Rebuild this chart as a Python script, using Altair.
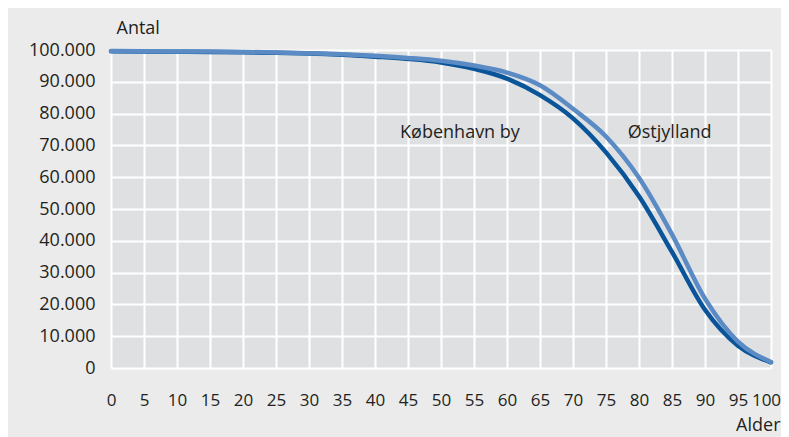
import altair as alt
import pandas as pd

# ---- data ----
ages = [0, 5, 10, 15, 20, 25, 30, 35, 40, 45, 50, 55, 60, 65, 70, 75, 80, 85, 90, 95, 100]
kbh = [99600, 99500, 99450, 99400, 99300, 99100, 98900, 98500, 97900, 97200, 96100,
       94100, 91000, 85800, 78500, 67800, 54000, 36500, 18300, 7000, 1800]
ost = [99700, 99600, 99550, 99500, 99400, 99200, 99000, 98700, 98200, 97500, 96600,
       95100, 92900, 88900, 81500, 72800, 59800, 42000, 21800, 8300, 1900]

label_text = ["København by", "Østjylland"]
label_age = [43.8, 78.3]
label_value = [73900, 73900]

x_ticks = list(range(0, 101, 5))
y_ticks = list(range(0, 100001, 10000))

FONT = "Open Sans, Liberation Sans, sans-serif"
FS = 18
DARK = "#0a5599"
LIGHT = "#5b8bc5"
TXT = "#231f20"

df_k = pd.DataFrame({"Alder": ages, "Antal": kbh})
df_o = pd.DataFrame({"Alder": ages, "Antal": ost})
df_l = pd.DataFrame({"Alder": label_age, "Antal": label_value, "t": label_text})

xs = alt.Scale(domain=[0, 100], nice=False, zero=False)
ys = alt.Scale(domain=[0, 100000], nice=False)

x_axis = alt.Axis(values=x_ticks, title="Alder", titleAngle=0, titleAlign="right",
                  titleBaseline="alphabetic", titleX=669, titleY=62,
                  labelPadding=24, labelAngle=0, labelFlush=False, labelOverlap=False,
                  labelFontSize=17,
                  labelOffset={"expr": "datum.value == 100 ? -5 : 0"})
y_axis = alt.Axis(values=y_ticks, title="Antal", titleAngle=0, titleAlign="left",
                  titleBaseline="alphabetic", titleX=5, titleY=-17,
                  labelPadding=16, labelFlush=False, labelOverlap=False,
                  labelExpr="replace(format(datum.value, ','), ',', '.')")

X = alt.X("Alder:Q", scale=xs, axis=x_axis)
Y = alt.Y("Antal:Q", scale=ys, axis=y_axis)

line_k = alt.Chart(df_k).mark_line(color=DARK, strokeWidth=4.5, interpolate="monotone",
                                   strokeCap="round").encode(x=X, y=Y)
line_o = alt.Chart(df_o).mark_line(color=LIGHT, strokeWidth=4.5, interpolate="monotone",
                                   strokeCap="round").encode(x=X, y=Y)
labels = alt.Chart(df_l).mark_text(align="left", baseline="middle", font=FONT,
                                   fontSize=FS, color=TXT).encode(
    x=X, y=Y, text="t:N")

chart = alt.layer(line_k, line_o, labels).properties(
    width=660, height=318,
    background="#ebebec",
    padding={"left": 103, "top": 42, "right": 10, "bottom": 69},
    autosize=alt.AutoSizeParams(type="none"),
).configure_view(
    fill="#dfe0e2", stroke=None
).configure_axis(
    domain=False, ticks=False, grid=True, gridColor="#ffffff", gridWidth=2,
    labelFont=FONT, labelFontSize=FS, labelColor=TXT,
    titleFont=FONT, titleFontSize=FS, titleColor=TXT, titleFontWeight="normal",
)

chart.save("out.html", embed_options={"renderer": "svg", "actions": False})
